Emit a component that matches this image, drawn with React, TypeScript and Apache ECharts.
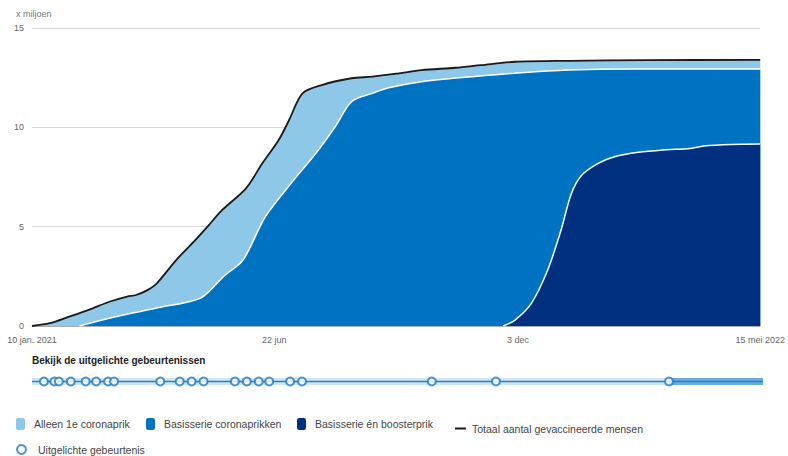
import React, { useEffect, useRef } from "react";
import * as echarts from "echarts";

const FONT = "'Liberation Sans', Arial, sans-serif";

// x-axis range and tick labels
const axisStart = "2021-01-10";
const axisEnd = "2022-05-15";
const xTickDates = ["2021-01-10", "2021-06-22", "2021-12-03", "2022-05-15"];
const xTickLabels = ["10 jan. 2021", "22 jun", "3 dec", "15 mei 2022"];
const yMax = 15;
const yStep = 5;

// Totaal aantal gevaccineerde mensen (x miljoen)
const totaalDates = [
  "2021-01-10", "2021-01-22", "2021-02-04", "2021-02-18", "2021-03-03", "2021-03-15",
  "2021-03-21", "2021-03-28", "2021-04-04", "2021-04-17", "2021-04-30", "2021-05-09",
  "2021-05-18", "2021-06-03", "2021-06-14", "2021-06-25", "2021-07-02", "2021-07-11",
  "2021-07-24", "2021-08-13", "2021-08-27", "2021-09-14", "2021-09-29", "2021-10-22",
  "2021-11-08", "2021-12-01", "2022-01-06", "2022-02-28", "2022-05-15",
];
const totaalValues = [
  0, 0.14, 0.47, 0.84, 1.22, 1.48,
  1.56, 1.78, 2.15, 3.32, 4.33, 5.08,
  5.84, 6.93, 8.19, 9.36, 10.37, 11.71,
  12.13, 12.47, 12.55, 12.72, 12.88, 13.0,
  13.13, 13.3, 13.35, 13.38, 13.4,
];

// Basisserie coronaprikken (x miljoen)
const basisDates = [
  "2021-02-11", "2021-03-03", "2021-03-23", "2021-04-08", "2021-04-21", "2021-05-03",
  "2021-05-09", "2021-05-19", "2021-06-01", "2021-06-16", "2021-07-06", "2021-07-20",
  "2021-08-02", "2021-08-13", "2021-08-27", "2021-09-07", "2021-09-29", "2021-11-02",
  "2021-12-05", "2022-01-06", "2022-02-17", "2022-05-15",
];
const basisValues = [
  0, 0.39, 0.72, 0.97, 1.14, 1.39,
  1.73, 2.5, 3.32, 5.5, 7.43, 8.69,
  10.03, 11.29, 11.71, 11.99, 12.3, 12.55,
  12.75, 12.88, 12.93, 12.93,
];

// Basisserie én boosterprik (x miljoen)
const boosterDates = [
  "2021-11-23", "2021-12-01", "2021-12-12", "2021-12-23", "2022-01-01", "2022-01-08",
  "2022-01-15", "2022-01-26", "2022-02-06", "2022-02-22", "2022-03-11", "2022-03-29",
  "2022-04-07", "2022-04-25", "2022-05-15",
];
const boosterValues = [
  0, 0.3, 1.14, 2.82, 4.83, 6.68,
  7.6, 8.19, 8.52, 8.74, 8.86, 8.94,
  9.06, 9.14, 9.16,
];

// Uitgelichte gebeurtenissen
const eventDates = [
  "2021-01-18", "2021-01-25", "2021-01-28", "2021-02-05", "2021-02-15", "2021-02-22",
  "2021-03-02", "2021-03-06", "2021-04-06", "2021-04-19", "2021-04-27", "2021-05-05",
  "2021-05-26", "2021-06-03", "2021-06-11", "2021-06-18", "2021-07-02", "2021-07-10",
  "2021-10-05", "2021-11-17", "2022-03-13",
];
const activeFrom = "2022-03-13";

const ts = (s: string) => {
  const [y, m, d] = s.split("-").map(Number);
  return Date.UTC(y, m - 1, d);
};
const zip = (dates: string[], vals: number[]) => dates.map((d, i) => [ts(d), vals[i]]);

const LIGHT = "#8dc8e8";
const MID = "#0072c2";
const DARK = "#00307f";
const BLACK = "#1a1a1a";

const legendText = { fontSize: 10.5, color: "#444", fontFamily: FONT };
const areaLegend = (name: string, color: string, left: number) => ({
  data: [{ name, icon: "roundRect", itemStyle: { color, borderWidth: 0 } }],
  left,
  top: 418,
  padding: 0,
  itemWidth: 9,
  itemHeight: 12,
  selectedMode: false,
  textStyle: { ...legendText, padding: [0, 0, 0, 4] },
});

const option: any = {
  animation: false,
  textStyle: { fontFamily: FONT },
  title: {
    text: "Bekijk de uitgelichte gebeurtenissen",
    left: 32,
    top: 355,
    padding: 0,
    textStyle: { fontSize: 10, fontWeight: "bold", color: "#222", fontFamily: FONT },
  },
  graphic: [
    {
      type: "text",
      left: 16,
      top: 9,
      style: { text: "x miljoen", fontSize: 9, fill: "#777", fontFamily: FONT },
    },
  ],
  grid: [
    { left: 32, right: 25, top: 28, bottom: 130 },
    { left: 32, right: 25, top: 378, height: 7 },
  ],
  xAxis: [
    {
      type: "value",
      gridIndex: 0,
      min: ts(axisStart),
      max: ts(axisEnd),
      axisLine: { show: true, lineStyle: { color: "#cccccc" } },
      axisTick: { show: false },
      splitLine: { show: false },
      axisLabel: {
        customValues: xTickDates.map(ts),
        formatter: (v: number) => {
          const i = xTickDates.findIndex((d) => ts(d) === v);
          return i >= 0 ? xTickLabels[i] : "";
        },
        color: "#666",
        fontSize: 9,
        fontFamily: FONT,
        margin: 9,
        hideOverlap: false,
        showMinLabel: true,
        showMaxLabel: true,
      },
    },
    { type: "value", gridIndex: 1, min: ts(axisStart), max: ts(axisEnd), show: false },
  ],
  yAxis: [
    {
      type: "value",
      gridIndex: 0,
      min: 0,
      max: yMax,
      interval: yStep,
      z: 3,
      axisLine: { show: false },
      axisTick: { show: false },
      axisLabel: { color: "#666", fontSize: 9, fontFamily: FONT, margin: 8 },
      splitLine: { lineStyle: { color: "rgba(0,0,0,0.15)", width: 1 } },
    },
    { type: "value", gridIndex: 1, min: 0, max: 1, show: false },
  ],
  legend: [
    areaLegend("Alleen 1e coronaprik", LIGHT, 16),
    areaLegend("Basisserie coronaprikken", MID, 146),
    areaLegend("Basisserie én boosterprik", DARK, 297),
    {
      data: [{ name: "Totaal aantal gevaccineerde mensen", icon: "rect", itemStyle: { color: BLACK, borderWidth: 0 } }],
      left: 455,
      top: 423,
      padding: 0,
      itemWidth: 11,
      itemHeight: 2,
      selectedMode: false,
      textStyle: { ...legendText, padding: [0, 0, 0, 1] },
    },
    {
      data: [{ name: "Uitgelichte gebeurtenis", icon: "circle" }],
      left: 16,
      top: 444,
      padding: 0,
      itemWidth: 9,
      itemHeight: 9,
      selectedMode: false,
      textStyle: { ...legendText, padding: [0, 0, 0, 7] },
    },
  ],
  series: [
    {
      name: "Alleen 1e coronaprik",
      type: "line",
      data: zip(totaalDates, totaalValues),
      showSymbol: false,
      symbol: "none",
      smooth: 0.3,
      itemStyle: { color: LIGHT },
      lineStyle: { width: 0, color: LIGHT },
      areaStyle: { color: LIGHT, opacity: 1 },
    },
    {
      name: "Basisserie coronaprikken",
      type: "line",
      data: zip(basisDates, basisValues),
      showSymbol: false,
      symbol: "none",
      smooth: 0.3,
      itemStyle: { color: MID },
      lineStyle: { width: 1.5, color: "#ffffff" },
      areaStyle: { color: MID, opacity: 1 },
    },
    {
      name: "Basisserie én boosterprik",
      type: "line",
      data: zip(boosterDates, boosterValues),
      showSymbol: false,
      symbol: "none",
      smooth: 0.3,
      itemStyle: { color: DARK },
      lineStyle: { width: 1.5, color: "#ffffff" },
      areaStyle: { color: DARK, opacity: 1 },
    },
    {
      name: "Totaal aantal gevaccineerde mensen",
      type: "line",
      data: zip(totaalDates, totaalValues),
      showSymbol: false,
      symbol: "none",
      smooth: 0.3,
      itemStyle: { color: BLACK },
      lineStyle: { width: 1.8, color: BLACK },
    },
    {
      name: "band",
      type: "line",
      xAxisIndex: 1,
      yAxisIndex: 1,
      silent: true,
      symbol: "none",
      data: [[ts(axisStart), 0.5], [ts(axisEnd), 0.5]],
      lineStyle: { width: 7, color: "#cfe6f5", cap: "butt" },
      z: 1,
    },
    {
      name: "active",
      type: "line",
      xAxisIndex: 1,
      yAxisIndex: 1,
      silent: true,
      symbol: "none",
      data: [[ts(activeFrom), 0.5], [ts(axisEnd), 0.5]],
      lineStyle: { width: 7, color: "#6aaee0", cap: "butt" },
      z: 2,
    },
    {
      name: "axisline",
      type: "line",
      xAxisIndex: 1,
      yAxisIndex: 1,
      silent: true,
      symbol: "none",
      data: [[ts(axisStart), 0.5], [ts(axisEnd), 0.5]],
      lineStyle: { width: 1.5, color: "#2a7fc4", cap: "butt" },
      z: 3,
    },
    {
      name: "Uitgelichte gebeurtenis",
      type: "scatter",
      xAxisIndex: 1,
      yAxisIndex: 1,
      data: eventDates.map((d) => [ts(d), 0.5]),
      symbolSize: 8,
      clip: false,
      itemStyle: { color: "#ffffff", borderColor: "#1f78bf", borderWidth: 2 },
      z: 5,
    },
  ],
};

export default function App() {
  const ref = useRef<HTMLDivElement>(null);
  useEffect(() => {
    document.body.style.margin = "0";
    const chart = echarts.init(ref.current as HTMLDivElement, null, { renderer: "svg" });
    chart.setOption(option);
    return () => chart.dispose();
  }, []);
  return <div ref={ref} style={{ width: 788, height: 456 }} />;
}
